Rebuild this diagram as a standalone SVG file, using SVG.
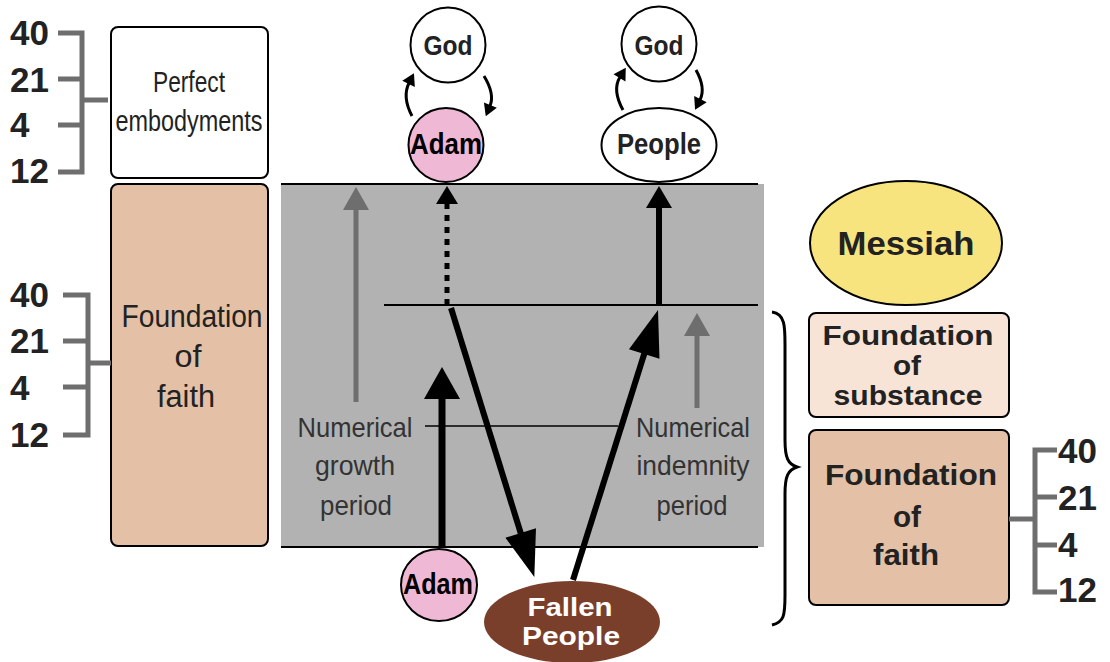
<svg xmlns="http://www.w3.org/2000/svg" width="1110" height="662" viewBox="0 0 1110 662">
<style>
.t{font-family:"Liberation Sans",Arial,sans-serif;fill:#222;text-anchor:middle}
.b{font-weight:bold}
.n{font-family:"Liberation Sans",Arial,sans-serif;font-weight:bold;font-size:35px;fill:#222}
.br{stroke:#6e6e6e;stroke-width:5;fill:none}
.ln{stroke:#000;stroke-width:2;fill:none}
.node{stroke:#000;stroke-width:2}
.lbl{font-family:"Liberation Sans",Arial,sans-serif;font-size:28px;fill:#333;text-anchor:middle}
</style>
<defs>
<marker id="ahBig" markerUnits="userSpaceOnUse" markerWidth="46" markerHeight="34" refX="0" refY="17" orient="auto" overflow="visible"><path d="M-1,1 L45,17 L-1,33 Z" fill="#000"/></marker>
<marker id="ahAdam" markerUnits="userSpaceOnUse" markerWidth="32" markerHeight="38" refX="0" refY="19" orient="auto" overflow="visible"><path d="M-1,1 L31,19 L-1,37 Z" fill="#000"/></marker>
<marker id="ahMid" markerUnits="userSpaceOnUse" markerWidth="22" markerHeight="28" refX="0" refY="14" orient="auto" overflow="visible"><path d="M-1,1 L21,14 L-1,27 Z" fill="#000"/></marker>
<marker id="ahDash" markerUnits="userSpaceOnUse" markerWidth="18" markerHeight="24" refX="0" refY="12" orient="auto" overflow="visible"><path d="M-1,1 L17,12 L-1,23 Z" fill="#000"/></marker>
<marker id="ahGray" markerUnits="userSpaceOnUse" markerWidth="23" markerHeight="28" refX="0" refY="14" orient="auto" overflow="visible"><path d="M-1,1 L22,14 L-1,27 Z" fill="#6e6e6e"/></marker>
<marker id="ahSmall" markerUnits="userSpaceOnUse" markerWidth="12" markerHeight="14" refX="1" refY="7" orient="auto" overflow="visible"><path d="M0,0 L12,7 L0,14 Z" fill="#000"/></marker>
</defs>

<!-- gray period area -->
<g id="period-area">
<rect x="281" y="184" width="483" height="363" fill="#b2b2b2"/>
<line class="ln" x1="281" y1="184" x2="758" y2="184"/>
<line class="ln" x1="281" y1="547" x2="758" y2="547"/>
<line class="ln" x1="384" y1="305" x2="758" y2="305"/>
<line x1="425" y1="426" x2="618" y2="426" stroke="#000" stroke-width="1.5"/>
<text class="lbl" x="355" y="437" textLength="115" lengthAdjust="spacingAndGlyphs">Numerical</text>
<text class="lbl" x="355" y="475" textLength="80" lengthAdjust="spacingAndGlyphs">growth</text>
<text class="lbl" x="356" y="515" textLength="72" lengthAdjust="spacingAndGlyphs">period</text>
<text class="lbl" x="693" y="437" textLength="114" lengthAdjust="spacingAndGlyphs">Numerical</text>
<text class="lbl" x="693" y="475" textLength="113" lengthAdjust="spacingAndGlyphs">indemnity</text>
<text class="lbl" x="692" y="515" textLength="71" lengthAdjust="spacingAndGlyphs">period</text>
</g>

<!-- left column -->
<g id="perfect-embodyments">
<rect x="111" y="27" width="157" height="151" rx="7" fill="#fff" class="node"/>
<text class="t" x="189" y="92" font-size="30" textLength="72" lengthAdjust="spacingAndGlyphs">Perfect</text>
<text class="t" x="189" y="131" font-size="30" textLength="147" lengthAdjust="spacingAndGlyphs">embodyments</text>
</g>
<g id="foundation-faith-left">
<rect x="111" y="184" width="157" height="362" rx="7" fill="#e3c0a6" class="node"/>
<text class="t" x="192" y="327" font-size="31" textLength="141" lengthAdjust="spacingAndGlyphs">Foundation</text>
<text class="t" x="188" y="367" font-size="31" textLength="27" lengthAdjust="spacingAndGlyphs">of</text>
<text class="t" x="186" y="407" font-size="31" textLength="58" lengthAdjust="spacingAndGlyphs">faith</text>
</g>
<g id="numbers-top-left">
<text class="n" x="10" y="45">40</text>
<text class="n" x="10" y="92">21</text>
<text class="n" x="10" y="137">4</text>
<text class="n" x="10" y="183">12</text>
<path class="br" d="M58,33 H82 V172 H58 M58,79 H82 M58,125 H82 M82,100 H108"/>
</g>
<g id="numbers-bottom-left">
<text class="n" x="10" y="307">40</text>
<text class="n" x="10" y="353">21</text>
<text class="n" x="10" y="400">4</text>
<text class="n" x="10" y="447">12</text>
<path class="br" d="M63,295 H88 V435 H63 M63,341 H88 M63,387 H88 M88,363 H111"/>
</g>

<!-- top nodes -->
<g id="god-left">
<circle cx="448" cy="45" r="37.5" fill="#fff" class="node"/>
<text class="t b" x="448" y="55" font-size="28" textLength="49" lengthAdjust="spacingAndGlyphs">God</text>
</g>
<g id="adam-top">
<ellipse cx="446" cy="145" rx="37.5" ry="37" fill="#efb9d6" class="node"/>
<text class="t b" x="446" y="154" font-size="29" textLength="72" lengthAdjust="spacingAndGlyphs" style="fill:#000">Adam</text>
</g>
<g id="god-right">
<circle cx="659" cy="44" r="37.5" fill="#fff" class="node"/>
<text class="t b" x="659" y="55" font-size="28" textLength="49" lengthAdjust="spacingAndGlyphs">God</text>
</g>
<g id="people-top">
<ellipse cx="659" cy="145" rx="57.5" ry="37" fill="#fff" class="node"/>
<text class="t b" x="659" y="154" font-size="29" textLength="84" lengthAdjust="spacingAndGlyphs">People</text>
</g>

<!-- bottom nodes -->
<g id="adam-bottom">
<ellipse cx="439" cy="585" rx="38" ry="36" fill="#efb9d6" class="node"/>
<text class="t b" x="438" y="594" font-size="29" textLength="70" lengthAdjust="spacingAndGlyphs" style="fill:#000">Adam</text>
</g>
<g id="fallen-people">
<ellipse cx="572" cy="622" rx="88" ry="41" fill="#7a3f2b"/>
<text class="t b" x="570" y="616" font-size="26" textLength="85" lengthAdjust="spacingAndGlyphs" style="fill:#fff">Fallen</text>
<text class="t b" x="571" y="645" font-size="26" textLength="98" lengthAdjust="spacingAndGlyphs" style="fill:#fff">People</text>
</g>

<!-- right column -->
<g id="messiah">
<ellipse cx="906" cy="243" rx="96" ry="62" fill="#f8e47e" class="node"/>
<text class="t b" x="906" y="255" font-size="34" textLength="137" lengthAdjust="spacingAndGlyphs">Messiah</text>
</g>
<g id="foundation-substance">
<rect x="809" y="313" width="200" height="104" rx="7" fill="#f7e4d6" class="node"/>
<text class="t b" x="908" y="345" font-size="26.8" textLength="171" lengthAdjust="spacingAndGlyphs">Foundation</text>
<text class="t b" x="907" y="375" font-size="26.8" textLength="28" lengthAdjust="spacingAndGlyphs">of</text>
<text class="t b" x="908" y="405" font-size="26.8" textLength="149" lengthAdjust="spacingAndGlyphs">substance</text>
</g>
<g id="foundation-faith-right">
<rect x="809" y="430" width="200" height="175" rx="7" fill="#e3c0a6" class="node"/>
<text class="t b" x="911" y="485" font-size="30" textLength="172" lengthAdjust="spacingAndGlyphs">Foundation</text>
<text class="t b" x="907" y="527" font-size="30" textLength="28" lengthAdjust="spacingAndGlyphs">of</text>
<text class="t b" x="906" y="565" font-size="30" textLength="66" lengthAdjust="spacingAndGlyphs">faith</text>
</g>
<g id="numbers-right">
<path class="br" d="M1057,450 H1035 V592 H1057 M1035,497 H1057 M1035,545 H1057 M1009,519 H1035"/>
<text class="n" x="1058" y="463">40</text>
<text class="n" x="1058" y="510">21</text>
<text class="n" x="1058" y="557">4</text>
<text class="n" x="1058" y="602">12</text>
</g>
<g id="brace">
<path d="M772,312 C786,314 785,328 785,350 L785,440 C785,458 788,464 797,467 C788,470 785,476 785,494 L785,595 C785,616 784,622 772,625" fill="none" stroke="#000" stroke-width="3"/>
</g>

<!-- connectors -->
<g id="connectors" fill="none">
<line x1="356" y1="402" x2="356" y2="209" stroke="#6e6e6e" stroke-width="5" marker-end="url(#ahGray)"/>
<line x1="697" y1="408" x2="697" y2="335" stroke="#6e6e6e" stroke-width="5" marker-end="url(#ahGray)"/>
<line x1="447" y1="305" x2="447" y2="203" stroke="#000" stroke-width="5" stroke-dasharray="6,6" marker-end="url(#ahDash)"/>
<line x1="659" y1="305" x2="659" y2="207" stroke="#000" stroke-width="6" marker-end="url(#ahMid)"/>
<line x1="442" y1="547" x2="442" y2="398" stroke="#000" stroke-width="7" marker-end="url(#ahAdam)"/>
<line x1="451" y1="308" x2="521" y2="534" stroke="#000" stroke-width="6" marker-end="url(#ahBig)"/>
<line x1="573" y1="580" x2="644.5" y2="353" stroke="#000" stroke-width="6" marker-end="url(#ahBig)"/>
<path d="M412,116 Q402,97 409,83" stroke="#000" stroke-width="3" marker-end="url(#ahSmall)"/>
<path d="M484,76 Q495,94 490,106" stroke="#000" stroke-width="3" marker-end="url(#ahSmall)"/>
<path d="M623,110 Q612,90 620,77" stroke="#000" stroke-width="3" marker-end="url(#ahSmall)"/>
<path d="M696,70 Q706,88 700,100" stroke="#000" stroke-width="3" marker-end="url(#ahSmall)"/>
</g>
</svg>
